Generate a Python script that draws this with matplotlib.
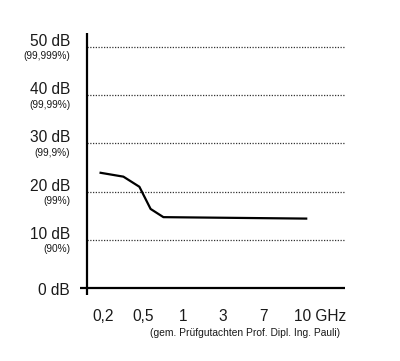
import matplotlib
matplotlib.use('Agg')
from matplotlib import pyplot as plt

plt.rcParams['font.family'] = ['Liberation Sans', 'DejaVu Sans']

# Achsenbeschriftungen
db_werte = [0, 10, 20, 30, 40, 50]
db_labels = ['0 dB', '10 dB', '20 dB', '30 dB', '40 dB', '50 dB']
prozent_labels = ['', '(90%)', '(99%)', '(99,9%)', '(99,99%)', '(99,999%)']
freq_labels = ['0,2', '0,5', '1', '3', '7', '10 GHz']

# Messkurve (Position auf der Frequenzachse, Dämpfung in dB)
kurve_x = [-0.06, 0.51, 0.91, 1.19, 1.51, 5.08]
kurve_db = [23.9, 23.1, 21.0, 16.4, 14.7, 14.4]

fig = plt.figure(figsize=(4.0, 3.61), dpi=100)
ax = fig.add_axes([80 / 400, 1 - 295 / 361, 265 / 400, 262 / 361])
ax.set_xlim(-0.575, 6.05)
ax.set_ylim(-1.45, 52.9)
ax.axis('off')

# gepunktete Hilfslinien
for v in db_werte[1:]:
    ax.plot([-0.4, 6.05], [v, v], color='#333333', lw=0.9, ls=(0, (1, 1.2)))

# Achsen
ax.axvline(-0.4, color='black', lw=1.6)
ax.axhline(0, color='black', lw=1.6)

# Kurve
ax.plot(kurve_x, kurve_db, color='black', lw=1.6, solid_joinstyle='round')

# y-Beschriftung
for v, lab, pr in zip(db_werte, db_labels, prozent_labels):
    if v == 0:
        ax.text(-0.825, v - 0.5, lab, ha='right', va='center', fontsize=11.2,
                color='#1a1a1a')
        continue
    ax.text(-0.825, v + 0.2, lab, ha='right', va='baseline', fontsize=11.2,
            color='#1a1a1a')
    ax.text(-0.825, v - 0.9, pr, ha='right', va='top', fontsize=7.3,
            color='#1a1a1a')

# x-Beschriftung
for i, lab in enumerate(freq_labels):
    if lab.endswith('GHz'):
        ax.text(i - 0.23, -4.3, lab, ha='left', va='top', fontsize=11.2,
                color='#1a1a1a')
    else:
        ax.text(i, -4.3, lab, ha='center', va='top', fontsize=11.2,
                color='#1a1a1a')

ax.text(5.93, -8.3, '(gem. Prüfgutachten Prof. Dipl. Ing. Pauli)',
        ha='right', va='top', fontsize=7.4, color='#1a1a1a')

fig.savefig('out.png', dpi=100)
